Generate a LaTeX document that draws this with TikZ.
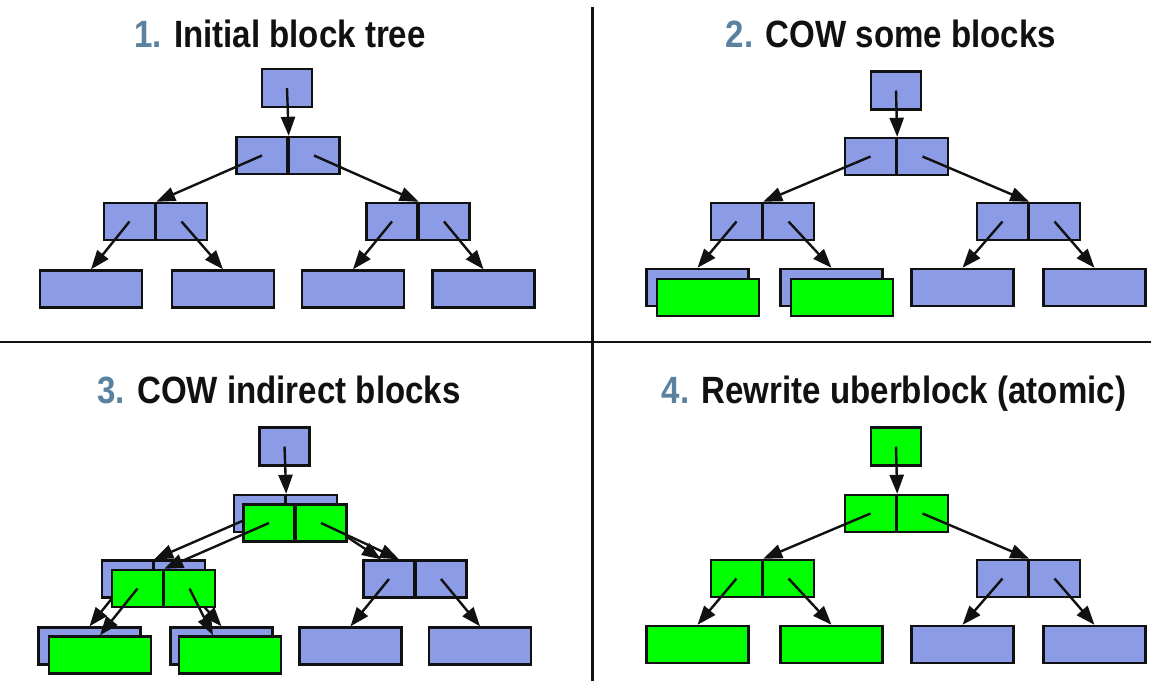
\documentclass[tikz,border=0pt]{standalone}
\usepackage{fontspec}
\usetikzlibrary{arrows.meta,calc}
\newfontfamily\titlefont[FakeStretch=0.87]{Liberation Sans}
\definecolor{blockblue}{HTML}{8B9BE6}
\definecolor{newgreen}{HTML}{00FF00}
\definecolor{titleblue}{HTML}{5A82A0}
\definecolor{ink}{HTML}{111111}
\tikzset{
  blkbox/.style={draw=ink, line width=2.4pt, fill=blockblue, inner sep=0pt, minimum height=37pt},
  cellbox/.style={blkbox, minimum width=51pt},
  rootbox/.style={blkbox, minimum width=50pt, minimum height=38pt},
  leafbox/.style={blkbox, minimum width=102pt},
  newb/.style={fill=newgreen},
  ptr/.style={draw=ink, line width=2.4pt, -{Triangle[length=19pt,width=14pt]}},
  ttl/.style={anchor=base, inner sep=0pt, font=\titlefont\bfseries\fontsize{38}{40}\selectfont, text=ink},
  sepline/.style={draw=ink, line width=2.6pt}
}
\newcommand\cellpair[4]{%
  \node[cellbox,#4] (#1L) at (#2-26,#3) {};
  \node[cellbox,#4] (#1R) at (#2+26,#3) {};}
\begin{document}
\begin{tikzpicture}[x=1pt,y=-1pt]
\useasboundingbox (0,0) rectangle (1151,681);
\fill[white] (0,0) rectangle (1151,681);

% separators
\coordinate (vtop) at (592.5,7);
\coordinate (vbot) at (592.5,681);
\coordinate (hlft) at (0,342);
\coordinate (hrgt) at (1151,342);
\draw[sepline] (vtop) -- (vbot);
\draw[sepline] (hlft) -- (hrgt);

% titles
\node[ttl] (t1) at (280,47) {{\color{titleblue}1.} Initial block tree};
\node[ttl] (t2) at (891,47) {{\color{titleblue}2.} COW some blocks};
\node[ttl] (t3) at (279,403) {{\color{titleblue}3.} COW indirect blocks};
\node[ttl] (t4) at (894,403) {{\color{titleblue}4.} Rewrite uberblock (atomic)};

% ---------------- Quadrant 1 ----------------
\node[rootbox] (aroot) at (287,88) {};
\cellpair{am}{288}{155.5}{}
\cellpair{aa}{155.5}{221.5}{}
\cellpair{ab}{418}{221.5}{}
\node[leafbox] (al1) at (91,289) {};
\node[leafbox] (al2) at (223,289) {};
\node[leafbox] (al3) at (353,289) {};
\node[leafbox] (al4) at (483.5,289) {};
\draw[ptr] (aroot.center) -- (amL.north east);
\draw[ptr] (amL.center) -- (aaL.north east);
\draw[ptr] (amR.center) -- (abL.north east);
\draw[ptr] (aaL.center) -- (al1.north);
\draw[ptr] (aaR.center) -- (al2.north);
\draw[ptr] (abL.center) -- (al3.north);
\draw[ptr] (abR.center) -- (al4.north);

% ---------------- Quadrant 2 ----------------
\node[rootbox] (broot) at (896,90.5) {};
\cellpair{bm}{896.5}{156.5}{}
\cellpair{ba}{762.5}{221.5}{}
\cellpair{bb}{1028.5}{221.5}{}
\node[leafbox] (bl1) at (697.5,287.5) {};
\node[leafbox] (bl2) at (831.5,287.5) {};
\node[leafbox] (bl3) at (962.5,287.5) {};
\node[leafbox] (bl4) at (1094.5,287.5) {};
\draw[ptr] (broot.center) -- (bmL.north east);
\draw[ptr] (bmL.center) -- (baL.north east);
\draw[ptr] (bmR.center) -- (bbL.north east);
\draw[ptr] (baL.center) -- (bl1.north);
\draw[ptr] (baR.center) -- (bl2.north);
\draw[ptr] (bbL.center) -- (bl3.north);
\draw[ptr] (bbR.center) -- (bl4.north);
\node[leafbox,newb] (bg1) at (708,297.5) {};
\node[leafbox,newb] (bg2) at (842,297.5) {};

% ---------------- Quadrant 3 ----------------
\node[rootbox] (croot) at (284.5,446.5) {};
\cellpair{cm}{285.5}{513.5}{}
\cellpair{ca}{153.5}{579}{}
\cellpair{cb}{415}{579}{}
\node[leafbox] (cl1) at (89.5,646) {};
\node[leafbox] (cl2) at (221.5,646) {};
\node[leafbox] (cl3) at (350.5,646) {};
\node[leafbox] (cl4) at (480,646) {};
\coordinate (cbold) at ($(cbL.north)+(-8,0)$);
\coordinate (cbnew) at ($(cbL.north)+(10,0)$);
\draw[ptr] (croot.center) -- (cmL.north east);
\draw[ptr] (cmL.center) -- (caL.north east);
\draw[ptr] (cmR.center) -- (cbold);
\draw[ptr] (caL.center) -- (cl1.north);
\draw[ptr] (caR.center) -- (cl2.north);
\draw[ptr] (cbL.center) -- (cl3.north);
\draw[ptr] (cbR.center) -- (cl4.north);
% new copies
\cellpair{cn}{295}{523}{newb}
\cellpair{cg}{163.5}{588.5}{newb}
\node[leafbox,newb] (cg1) at (100,655) {};
\node[leafbox,newb] (cg2) at (230,655) {};
\coordinate (cg2end) at ($(cg2.north)+(-17,0)$);
\draw[ptr] (cnL.center) -- (cgL.north east);
\draw[ptr] (cnR.center) -- (cbnew);
\draw[ptr] (cgL.center) -- (cg1.north);
\draw[ptr] (cgR.center) -- (cg2end);

% ---------------- Quadrant 4 ----------------
\node[rootbox,newb] (droot) at (896,446.5) {};
\cellpair{dm}{896.5}{513.5}{newb}
\cellpair{da}{762.5}{578.5}{newb}
\cellpair{db}{1028.5}{578.5}{}
\node[leafbox,newb] (dl1) at (697.5,644.5) {};
\node[leafbox,newb] (dl2) at (831.5,644.5) {};
\node[leafbox] (dl3) at (962.5,644.5) {};
\node[leafbox] (dl4) at (1094.5,644.5) {};
\draw[ptr] (droot.center) -- (dmL.north east);
\draw[ptr] (dmL.center) -- (daL.north east);
\draw[ptr] (dmR.center) -- (dbL.north east);
\draw[ptr] (daL.center) -- (dl1.north);
\draw[ptr] (daR.center) -- (dl2.north);
\draw[ptr] (dbL.center) -- (dl3.north);
\draw[ptr] (dbR.center) -- (dl4.north);
\end{tikzpicture}
\end{document}
